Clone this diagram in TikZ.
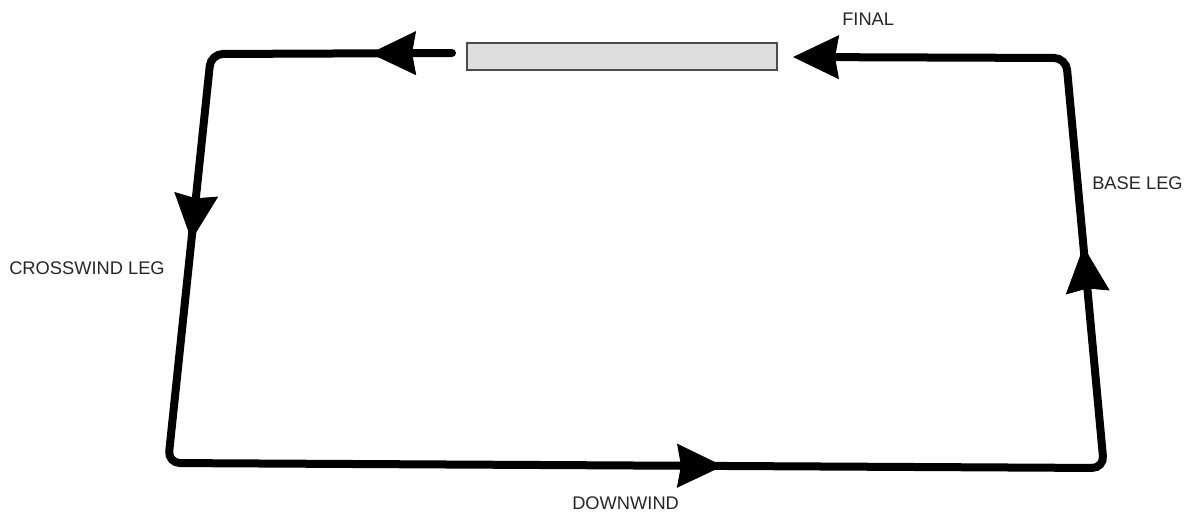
\documentclass[tikz,border=0pt]{standalone}
\usepackage{fontspec}
\setmainfont{Liberation Sans}
\usetikzlibrary{arrows.meta,decorations.markings}
\tikzset{
	x=0.025cm, y=-0.025cm,
	bigtip/.tip = {Stealth[length=1.15cm, width=1.1cm, inset=0.1cm, line width=0.02cm]},
	leg/.style = {line width=0.2cm, rounded corners=0.3cm, line cap=round},
	midhead/.style = {decoration={markings,
		mark=at position #1 with {\arrow{bigtip}}}, postaction=decorate},
	runway/.style = {draw=black!70, fill=black!13, line width=0.04cm,
		minimum width=7.75cm, minimum height=0.675cm, inner sep=0pt},
	lbl/.style = {anchor=west, inner sep=0pt,
		font=\fontsize{13}{15}\selectfont, text=black!85},
}

\begin{document}
\begin{tikzpicture}
	\useasboundingbox (0,0) rectangle (1189,516);
	% corners of the circuit
	\coordinate (rwl) at (452,53);
	\coordinate (tl) at (211,54);
	\coordinate (bl) at (168,463);
	\coordinate (br) at (1104,468);
	\coordinate (tr) at (1066,58);
	\coordinate (rwr) at (793,57);
	\node (runway) [runway] at (622,56.5) {};
	\draw[leg, -bigtip] (rwl) -- (tl) -- (bl) -- (br) -- (tr) -- (rwr);
	\path[midhead=0.34] (rwl) -- (tl);
	\path[midhead=0.455] (tl) -- (bl);
	\path[midhead=0.593] (bl) -- (br);
	\path[midhead=0.54] (br) -- (tr);
	% labels
	\node (final) [lbl] at (842,19) {FINAL};
	\node (base) [lbl] at (1092,183) {BASE LEG};
	\node (cross) [lbl] at (9,268) {CROSSWIND LEG};
	\node (down) [lbl] at (572,503) {DOWNWIND};
\end{tikzpicture}
\end{document}
